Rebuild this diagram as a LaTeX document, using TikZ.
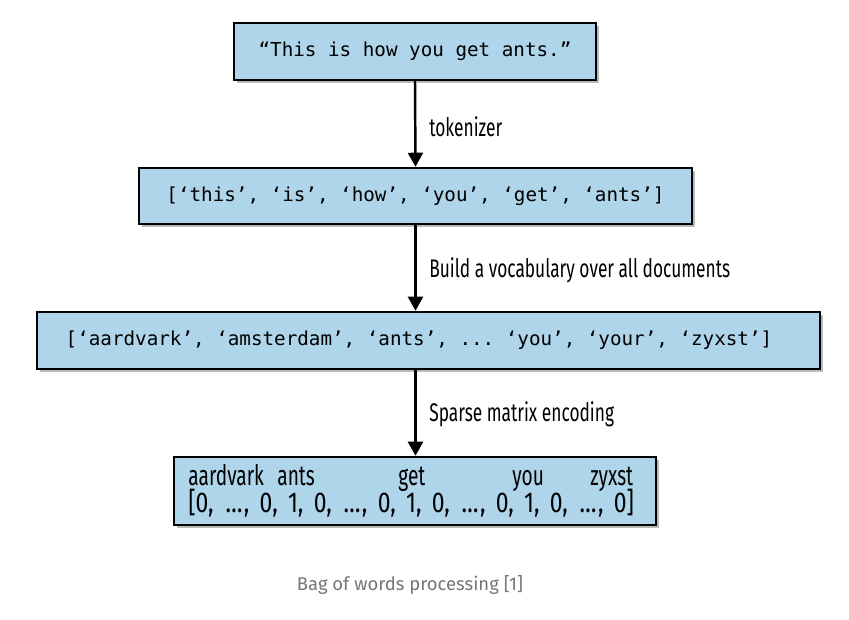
\documentclass[tikz,border=0pt]{standalone}
\usepackage{fontspec}
\setmonofont{DejaVu Sans Mono}
\newfontfamily\labelfont[FakeStretch=0.68]{Fira Sans}
\newfontfamily\bitfont[FakeStretch=0.8,WordSpace=1.7]{Fira Sans}
\newfontfamily\capfont{Fira Sans}
\usetikzlibrary{arrows.meta,shadows}
\definecolor{BoxBlue}{RGB}{174,213,234}
\definecolor{CapGray}{RGB}{118,118,118}
\newcommand\skipdots{\makebox[11.3pt]{…}}
\tikzset{
  stage/.style={draw=black,fill=BoxBlue,line width=1.4pt,inner sep=0pt,
    drop shadow={shadow xshift=1.6pt,shadow yshift=-1.6pt,fill=black!45,opacity=.6},
    font=\ttfamily\fontsize{10.95}{13}\selectfont},
  flow/.style={-{Triangle[length=8pt,width=8.5pt]},line width=1.4pt},
  note/.style={anchor=west,inner sep=0pt,font=\labelfont\fontsize{14.5}{16}\selectfont},
  entry/.style={anchor=base west,inner sep=0pt,font=\labelfont\fontsize{16}{18}\selectfont},
}
\begin{document}
\begin{tikzpicture}[x=0.02cm,y=-0.02cm]
\useasboundingbox[fill=white] (0,0) rectangle (849,619);
% the four stages
\node[stage,minimum width=7.24cm,minimum height=1.14cm] (sentence) at (415,51.5)
  {“This is how you get ants.”};
\node[stage,minimum width=11.06cm,minimum height=1.12cm] (tokens) at (415.5,196)
  {[‘this’, ‘is’, ‘how’, ‘you’, ‘get’, ‘ants’]};
\node[stage,minimum width=15.66cm,minimum height=1.14cm] (vocab) at (428.5,340.5)
  {[‘aardvark’, ‘amsterdam’, ‘ants’, ... ‘you’, ‘your’, ‘zyxst’]\hspace*{10.8pt}};
\node[stage,minimum width=9.64cm,minimum height=1.36cm] (vector) at (415,491) {};
% words over the vector
\foreach \x/\w in {188/aardvark,277/ants,398/get,512/you,590/zyxst}
  \node[entry] (w-\w) at (\x,485) {\w};
\node[entry,font=\bitfont\fontsize{16.3}{18}\selectfont] (bits) at (188,512)
  {[0, \skipdots, 0, 1, 0, \skipdots, 0, 1, 0, \skipdots, 0, 1, 0, \skipdots, 0]};
% arrows and their labels
\draw[flow] (sentence.south) -- (tokens.north);
\draw[flow] (tokens.south) -- (tokens.south |- vocab.north);
\draw[flow] (tokens.south |- vocab.south) -- (tokens.south |- vector.north);
\node[note] (tok) at (429,127) {tokenizer};
\node[note] (build) at (429,270) {Build a vocabulary over all documents};
\node[note] (sparse) at (429,414) {Sparse matrix encoding};
% caption
\node[font=\capfont\fontsize{10.5}{12}\selectfont,text=CapGray] (caption) at (410,585)
  {Bag of words processing [1]};
\end{tikzpicture}
\end{document}
